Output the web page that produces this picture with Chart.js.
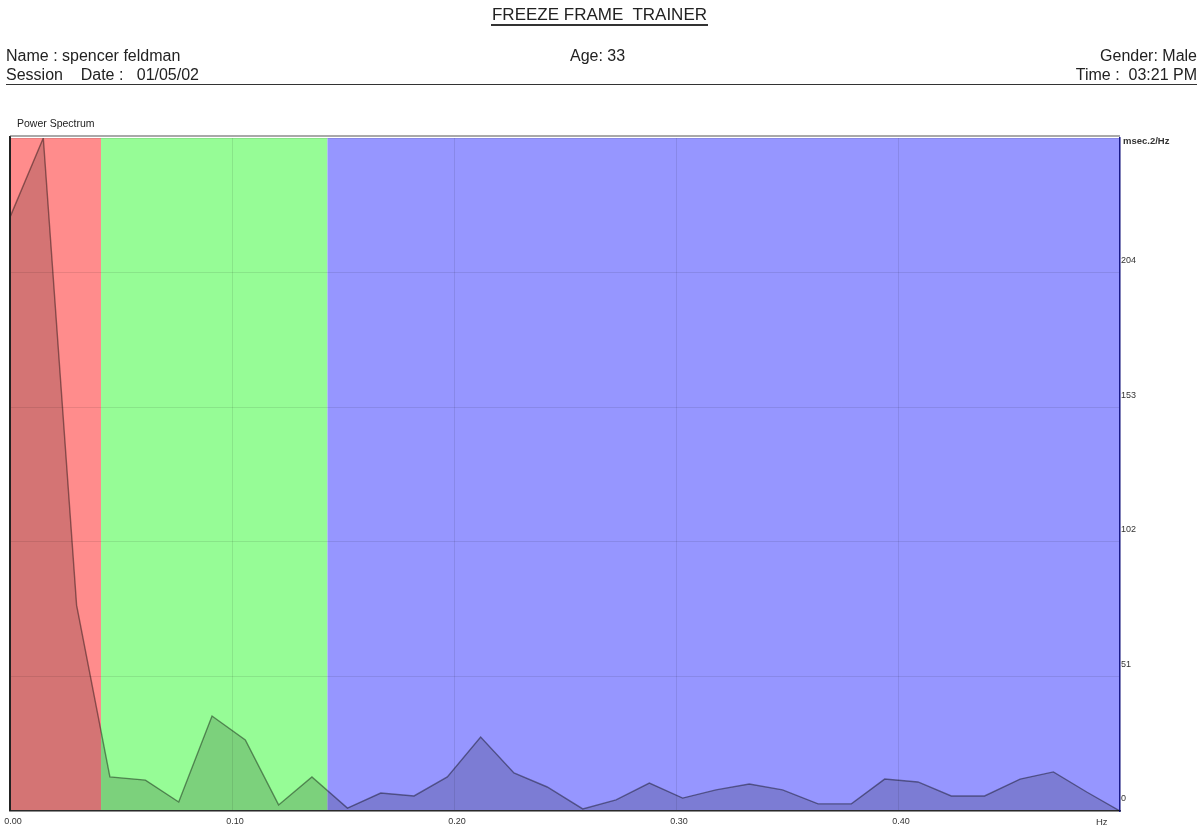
<!DOCTYPE html>
<html>
<head>
<meta charset="utf-8">
<script src="https://cdn.jsdelivr.net/npm/chart.js@4.4.1/dist/chart.umd.min.js"></script>
<style>
  html, body { margin:0; padding:0; background:#fff; width:1199px; height:831px; overflow:hidden; }
  body { position:relative; font-family:"Liberation Sans", Arial, sans-serif; color:#222; }
  #c { position:absolute; left:0; top:0; }
  .t { position:absolute; white-space:pre; }
</style>
</head>
<body>
<canvas id="c" width="1199" height="831"></canvas>
<div class="t" style="left:0;width:1199px;top:6px;text-align:center;font-size:17px;line-height:18px;"><span style="border-bottom:2px solid #333;padding:0 1px;">FREEZE FRAME  TRAINER</span></div>
<div class="t" style="left:6px;top:46px;font-size:16px;line-height:19px;">Name : spencer feldman</div>
<div class="t" style="left:6px;top:65px;font-size:16px;line-height:19px;">Session    Date :   01/05/02</div>
<div class="t" style="left:570px;top:46px;font-size:16px;line-height:19px;">Age: 33</div>
<div class="t" style="right:2px;top:46px;font-size:16px;line-height:19px;text-align:right;">Gender: Male</div>
<div class="t" style="right:2px;top:65px;font-size:16px;line-height:19px;text-align:right;">Time :  03:21 PM</div>
<div style="position:absolute;left:6px;top:84px;width:1191px;border-top:1.5px solid #333;"></div>
<div class="t" style="left:17px;top:117px;font-size:10.5px;line-height:13px;">Power Spectrum</div>
<div class="t" style="left:1123px;top:135px;font-size:9.5px;line-height:12px;font-weight:bold;color:#333;">msec.2/Hz</div>
<div class="t" style="left:1096px;top:816px;font-size:9.5px;line-height:12px;color:#333;">Hz</div>
<script>
// ---- data ----
const freqs = [0.000, 0.015, 0.030, 0.045, 0.061, 0.076, 0.091, 0.106, 0.121, 0.136,
               0.152, 0.167, 0.182, 0.197, 0.212, 0.227, 0.242, 0.258, 0.273, 0.288,
               0.303, 0.318, 0.333, 0.348, 0.364, 0.379, 0.394, 0.409, 0.424, 0.439,
               0.455, 0.470, 0.485, 0.500];
const power = [225, 255, 78, 12.9, 11.7, 3.4, 36, 26.9, 2.3, 12.9,
               1.1, 6.8, 5.7, 12.9, 28, 14.4, 9.1, 0.8, 4.2, 10.6,
               4.9, 8, 10.2, 8, 2.7, 2.7, 12.1, 11, 5.7, 5.7,
               12.1, 14.8, 7.2, 0];
const bandEdges = [0, 0.041, 0.143, 0.5];
const bandColors = ['rgb(255,140,140)', 'rgb(150,252,150)', 'rgb(150,150,255)'];
const xTicks = [0, 0.1, 0.2, 0.3, 0.4, 0.5];
const yTicks = [0, 51, 102, 153, 204, 255];

const bandsPlugin = {
  id: 'bands',
  beforeDraw(chart) {
    const {ctx, chartArea, scales} = chart;
    ctx.save();
    for (let i = 0; i < bandColors.length; i++) {
      const x0 = scales.x.getPixelForValue(bandEdges[i]);
      const x1 = scales.x.getPixelForValue(bandEdges[i + 1]);
      ctx.fillStyle = bandColors[i];
      ctx.fillRect(x0, chartArea.top, x1 - x0, chartArea.bottom - chartArea.top);
    }
    ctx.restore();
  },
  afterDraw(chart) {
    const {ctx, chartArea} = chart;
    ctx.save();
    ctx.strokeStyle = '#222';
    ctx.lineWidth = 2;
    ctx.beginPath();
    ctx.moveTo(chartArea.left, chartArea.top - 2);
    ctx.lineTo(chartArea.left, chartArea.bottom);
    ctx.stroke();
    ctx.strokeStyle = '#555';
    ctx.lineWidth = 1.2;
    ctx.beginPath();
    ctx.moveTo(chartArea.left, chartArea.top - 2);
    ctx.lineTo(chartArea.right, chartArea.top - 2);
    ctx.stroke();
    ctx.restore();
  }
};

new Chart(document.getElementById('c'), {
  type: 'line',
  data: {
    datasets: [{
      data: freqs.map((f, i) => ({x: f, y: power[i]})),
      fill: 'origin',
      backgroundColor: 'rgba(0,0,0,0.17)',
      borderColor: 'rgba(0,0,0,0.42)',
      borderWidth: 1.4,
      pointRadius: 0,
      tension: 0
    }]
  },
  options: {
    responsive: false,
    animation: false,
    devicePixelRatio: 1,
    layout: { padding: { top: 138, left: 10, right: 0, bottom: 0 } },
    plugins: { legend: { display: false }, tooltip: { enabled: false } },
    scales: {
      x: {
        type: 'linear', min: 0, max: 0.5,
        afterBuildTicks: s => { s.ticks = xTicks.map(v => ({value: v})); },
        afterFit: s => { s.height = 20; s.paddingLeft = 0; s.paddingRight = 0; },
        grid: { color: 'rgba(0,0,0,0.09)', drawTicks: false, lineWidth: 1 },
        border: { color: '#333', width: 1.5 },
        ticks: {
          padding: 5, labelOffset: 3, maxRotation: 0, autoSkip: false,
          color: '#333', font: { family: 'Liberation Sans', size: 9 },
          callback: v => v === 0.5 ? '' : v.toFixed(2)
        }
      },
      y: {
        position: 'right', min: 0, max: 255,
        afterBuildTicks: s => { s.ticks = yTicks.map(v => ({value: v})); },
        afterFit: s => { s.width = 79; s.paddingTop = 0; s.paddingBottom = 0; },
        grid: { color: 'rgba(0,0,0,0.09)', drawTicks: false, lineWidth: 1 },
        border: { color: '#1a1a8a', width: 1.5 },
        ticks: {
          padding: 1, labelOffset: -12, autoSkip: false,
          color: '#333', font: { family: 'Liberation Sans', size: 9 },
          callback: v => v === 255 ? '' : String(v)
        }
      }
    }
  },
  plugins: [bandsPlugin]
});
</script>
</body>
</html>
